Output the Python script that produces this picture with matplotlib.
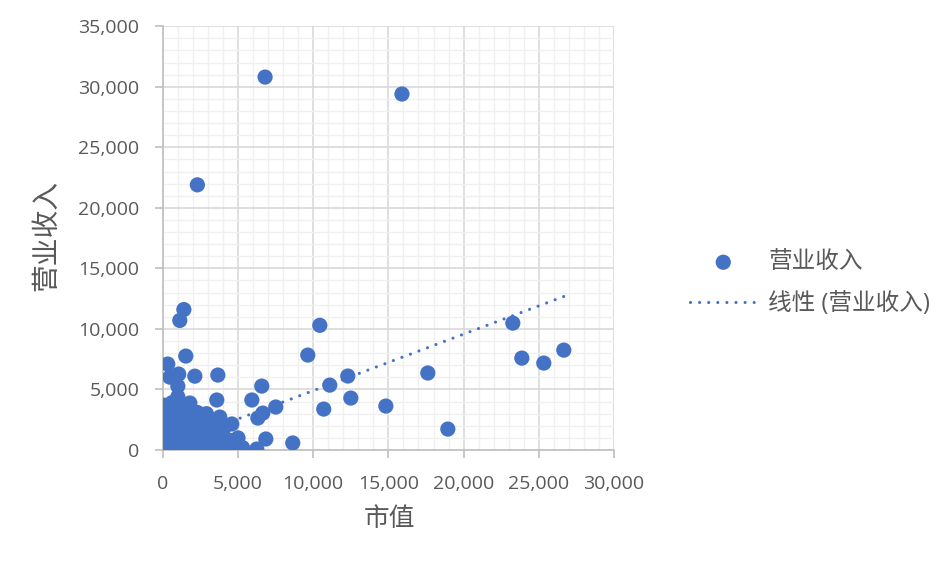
import numpy as np
import matplotlib
matplotlib.use("Agg")
import matplotlib.pyplot as plt
from matplotlib.ticker import MultipleLocator, FuncFormatter

plt.rcParams['font.family'] = ['Open Sans', 'Noto Sans CJK SC', 'DejaVu Sans']

# market value (x) and revenue (y)
big_x = [6800, 15900, 2300, 1400, 1130, 1530, 330, 470, 1060, 2130, 3660, 1000,
         3590, 1800, 3790, 4590, 10440, 9640, 11100, 12300, 12500, 10700, 14830,
         17620, 18950, 23270, 23870, 25330, 26660, 6580, 5920, 7510, 6650, 6320,
         6850, 6250, 8640, 5000, 4950]
big_y = [30800, 29400, 21900, 11600, 10700, 7760, 7100, 6020, 6270, 6100, 6190, 5280,
         4130, 3880, 2720, 2150, 10300, 7840, 5360, 6110, 4290, 3380, 3630,
         6360, 1730, 10480, 7590, 7180, 8250, 5280, 4130, 3550, 3050, 2640,
         910, 80, 580, 1000, 100]

# the dense block of small companies near the origin
cluster_x = [50, 80, 100, 120, 150, 180, 200, 220, 250, 280, 300, 320, 350, 380,
             400, 420, 450, 480, 500, 550, 600, 650, 700, 750, 800, 850, 900, 950,
             1000, 1050, 1100, 1150, 1200, 1250, 1300, 1400, 1500, 1600, 1700, 1800,
             1900, 2000, 2100, 2200, 2300, 2400, 2500, 2600, 2700, 2800, 2900, 3000,
             3200, 3400, 3600, 3800, 4000, 4200, 4400, 100, 300, 500, 700, 900,
             1100, 1300, 1500, 1700, 1900, 2100, 2300, 2500, 2700, 3100, 3500, 3900,
             200, 600, 1000, 1400, 1800, 2200, 2600, 150, 450, 800, 1200, 1600,
             4100, 4500, 3300, 2900, 5300]
cluster_y = [150, 900, 2100, 3700, 1500, 400, 2900, 1100, 3300, 600, 2500, 1800, 200, 3600,
             1300, 700, 2900, 100, 3400, 1900, 900, 2600, 3100, 500, 1500, 2300, 3800, 1100,
             4400, 200, 2700, 1600, 3300, 800, 2200, 400, 3000, 1400, 2400, 600,
             1900, 300, 2800, 1200, 2000, 700, 1600, 200, 2300, 1000, 400, 1700,
             900, 300, 1500, 700, 1200, 300, 500, 500, 3000, 1500, 1200, 2000,
             800, 3800, 500, 3500, 1000, 1600, 3100, 2500, 600, 2300, 200, 2000,
             1200, 3900, 300, 1100, 3300, 2500, 1000, 2600, 300, 600, 2000, 1000,
             1900, 800, 2400, 3000, 200]

# linear trendline as shown in the chart (the fit runs over many hidden points)
trend_slope = 0.467
trend_intercept = 230

x = np.array(big_x + cluster_x, dtype=float)
y = np.array(big_y + cluster_y, dtype=float)

blue = '#4472C4'
grey = '#595959'

fig = plt.figure(figsize=(9.52, 5.70), dpi=100)
ax = fig.add_axes([0.171, 0.2105, 0.474, 0.7435])

ax.scatter(x, y, s=120, color=blue, edgecolors='none', zorder=3, label='营业收入')

tx = np.array([x.min(), x.max()])
ax.plot(tx, trend_slope * tx + trend_intercept, color=blue, lw=2.25,
        linestyle=(0, (0.01, 2.9)), dash_capstyle='round', zorder=4,
        label='线性 (营业收入)')

ax.set_xlim(0, 30000)
ax.set_ylim(0, 35000)
ax.xaxis.set_major_locator(MultipleLocator(5000))
ax.yaxis.set_major_locator(MultipleLocator(5000))
ax.xaxis.set_minor_locator(MultipleLocator(1000))
ax.yaxis.set_minor_locator(MultipleLocator(1000))
fmt = FuncFormatter(lambda v, p: f'{int(v):,}')
ax.xaxis.set_major_formatter(fmt)
ax.yaxis.set_major_formatter(fmt)

ax.grid(which='major', color='#D9D9D9', lw=1.2, zorder=0)
ax.grid(which='minor', color='#F0F0F0', lw=1.0, zorder=0)
ax.set_axisbelow(True)

for s in ['top', 'right']:
    ax.spines[s].set_visible(False)
for s in ['left', 'bottom']:
    ax.spines[s].set_color('#BFBFBF')
    ax.spines[s].set_linewidth(1.2)
ax.tick_params(which='major', length=6, color='#BFBFBF', width=1.2,
               labelsize=14, labelcolor=grey)
ax.tick_params(axis='y', pad=11)
ax.tick_params(axis='x', pad=12)
ax.tick_params(which='minor', length=0)

ax.set_xlabel('市值', fontsize=18.5, color=grey)
ax.set_ylabel('营业收入', fontsize=20, color=grey)
ax.xaxis.set_label_coords(0.503, -0.165)
ax.xaxis.label.set_va('center')
ax.yaxis.set_label_coords(-0.255, 0.507)
ax.yaxis.label.set_va('center')

leg = ax.legend(loc='center left', bbox_to_anchor=(0.725, 0.503), bbox_transform=fig.transFigure,
                frameon=False, fontsize=17, handlelength=2.8, labelspacing=0.75,
                handletextpad=0.5, borderpad=0, borderaxespad=0)
for t in leg.get_texts():
    t.set_color(grey)

fig.savefig('out.png', dpi=100)
